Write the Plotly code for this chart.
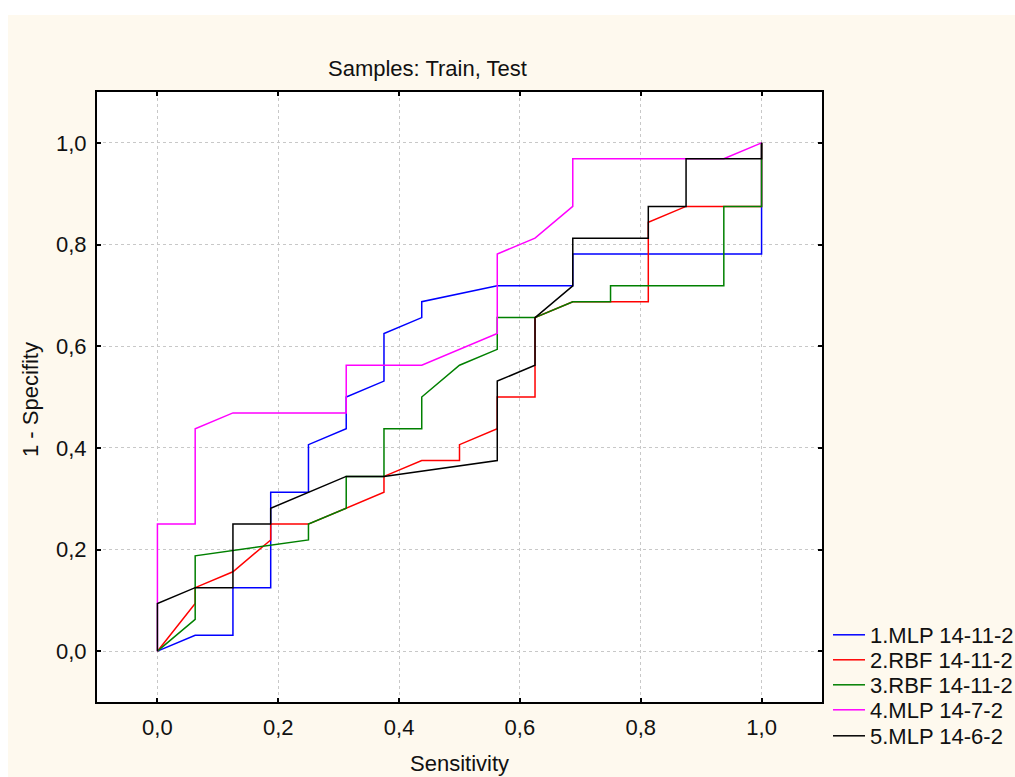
import plotly.graph_objects as go

# ---- data ----
names = ["1.MLP 14-11-2", "2.RBF 14-11-2", "3.RBF 14-11-2", "4.MLP 14-7-2", "5.MLP 14-6-2"]
colors = ["#0000FF", "#FF0000", "#008000", "#FF00FF", "#000000"]

mlp1_x = [0, 0.0625, 0.125, 0.125, 0.1875, 0.1875, 0.25, 0.25, 0.3125, 0.3125, 0.375, 0.375,
          0.4375, 0.4375, 0.5625, 0.6875, 0.6875, 1.0, 1.0, 1.0]
mlp1_y = [0, 0.03125, 0.03125, 0.125, 0.125, 0.3125, 0.3125, 0.40625, 0.4375, 0.5, 0.53125, 0.625,
          0.65625, 0.6875, 0.71875, 0.71875, 0.78125, 0.78125, 0.875, 1.0]

rbf2_x = [0, 0.0625, 0.0625, 0.125, 0.1875, 0.1875, 0.25, 0.3125, 0.375, 0.375, 0.4375, 0.5, 0.5,
          0.5625, 0.5625, 0.625, 0.625, 0.625, 0.6875, 0.8125, 0.8125, 0.875, 1.0, 1.0]
rbf2_y = [0, 0.09375, 0.125, 0.15625, 0.21875, 0.25, 0.25, 0.28125, 0.3125, 0.34375, 0.375, 0.375,
          0.40625, 0.4375, 0.5, 0.5, 0.5625, 0.65625, 0.6875, 0.6875, 0.84375, 0.875, 0.875, 1.0]

rbf3_x = [0, 0.0625, 0.0625, 0.25, 0.25, 0.3125, 0.3125, 0.375, 0.375, 0.4375, 0.4375, 0.5, 0.5625,
          0.5625, 0.625, 0.6875, 0.75, 0.75, 0.9375, 0.9375, 1.0, 1.0]
rbf3_y = [0, 0.0625, 0.1875, 0.21875, 0.25, 0.28125, 0.34375, 0.34375, 0.4375, 0.4375, 0.5, 0.5625,
          0.59375, 0.65625, 0.65625, 0.6875, 0.6875, 0.71875, 0.71875, 0.875, 0.875, 1.0]

mlp4_x = [0, 0, 0.0625, 0.0625, 0.125, 0.3125, 0.3125, 0.4375, 0.5625, 0.5625, 0.625, 0.6875,
          0.6875, 0.9375, 1.0]
mlp4_y = [0, 0.25, 0.25, 0.4375, 0.46875, 0.46875, 0.5625, 0.5625, 0.625, 0.78125, 0.8125, 0.875,
          0.96875, 0.96875, 1.0]

mlp5_x = [0, 0, 0.0625, 0.125, 0.125, 0.1875, 0.1875, 0.25, 0.3125, 0.375, 0.5625, 0.5625, 0.625,
          0.625, 0.6875, 0.6875, 0.8125, 0.8125, 0.875, 0.875, 1.0, 1.0]
mlp5_y = [0, 0.09375, 0.125, 0.125, 0.25, 0.25, 0.28125, 0.3125, 0.34375, 0.34375, 0.375, 0.53125,
          0.5625, 0.65625, 0.71875, 0.8125, 0.8125, 0.875, 0.875, 0.96875, 0.96875, 1.0]

tick_vals = [0.0, 0.2, 0.4, 0.6, 0.8, 1.0]

series = [(mlp1_x, mlp1_y), (rbf2_x, rbf2_y), (rbf3_x, rbf3_y), (mlp4_x, mlp4_y), (mlp5_x, mlp5_y)]

FONT = "Arial, 'Liberation Sans', sans-serif"
CREAM = "#FEF9EE"
TXT = "#111111"
FS = 22

W, H = 1015, 777
L, R, T, B = 97, 822, 92, 702

def px_x(p):
    return (p - L) / (R - L)

def px_y(p):
    return (B - p) / (B - T)

legend_ids = ["legend", "legend2", "legend3", "legend4", "legend5"]
legend_centers = [635, 660, 685, 710, 736]

fig = go.Figure()
for (xs, ys), nm, c, lid in zip(series, names, colors, legend_ids):
    fig.add_trace(go.Scatter(x=xs, y=ys, mode="lines", name=nm, legend=lid,
                             line=dict(color=c, width=1.5)))

axis_common = dict(
    range=[-0.1, 1.1], tickvals=tick_vals, tickformat=".1f",
    showline=True, linecolor="black", linewidth=2, mirror="ticks",
    ticks="inside", ticklen=4, tickwidth=1.5, tickcolor="black",
    showgrid=True, gridcolor="#c8c8c8", gridwidth=1, griddash="dot",
    zeroline=False, tickfont=dict(family=FONT, size=FS, color=TXT),
)

legends = {}
for lid, yc in zip(legend_ids, legend_centers):
    legends[lid] = dict(x=px_x(828), y=px_y(yc), xanchor="left", yanchor="middle",
                        bgcolor="rgba(0,0,0,0)", borderwidth=0, itemwidth=32,
                        font=dict(family=FONT, size=FS, color=TXT))

fig.update_layout(
    width=W, height=H,
    margin=dict(l=L, r=W - R, t=T, b=H - B, autoexpand=False),
    paper_bgcolor=CREAM, plot_bgcolor="white",
    separators=",.",
    font=dict(family=FONT, size=FS, color=TXT),
    xaxis=dict(**axis_common, ticklabelstandoff=5),
    yaxis=dict(**axis_common, ticklabelstandoff=4),
    showlegend=True,
    **legends,
    shapes=[
        dict(type="rect", xref="paper", yref="paper", x0=px_x(0), x1=px_x(W), y0=px_y(15), y1=px_y(0),
             fillcolor="white", line=dict(width=0), layer="below"),
        dict(type="rect", xref="paper", yref="paper", x0=px_x(0), x1=px_x(8), y0=px_y(H), y1=px_y(0),
             fillcolor="white", line=dict(width=0), layer="below"),
    ],
    annotations=[
        dict(text="Samples: Train, Test", xref="paper", yref="paper", x=px_x(427), y=px_y(68),
             xanchor="center", yanchor="middle", showarrow=False,
             font=dict(family=FONT, size=FS, color=TXT)),
        dict(text="Sensitivity", xref="paper", yref="paper", x=px_x(459), y=px_y(763),
             xanchor="center", yanchor="middle", showarrow=False,
             font=dict(family=FONT, size=FS, color=TXT)),
        dict(text="1 - Specifity", xref="paper", yref="paper", x=px_x(31), y=px_y(400),
             xanchor="center", yanchor="middle", showarrow=False, textangle=-90,
             font=dict(family=FONT, size=FS, color=TXT)),
    ],
)

fig.write_html("out.html")
